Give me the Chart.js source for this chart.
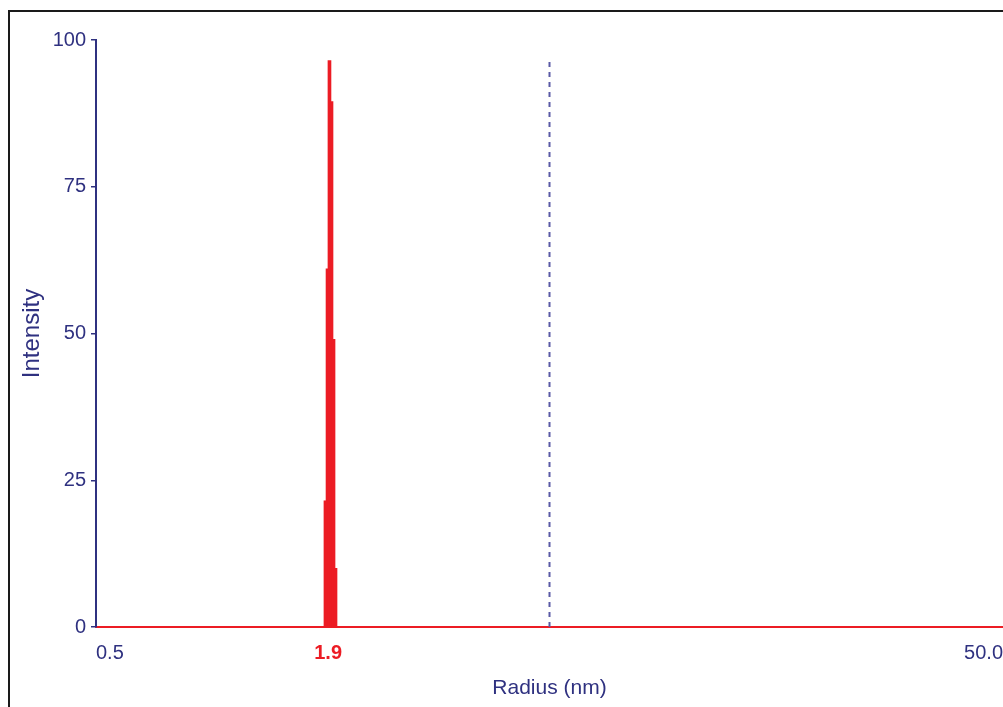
<!DOCTYPE html>
<html>
<head>
<meta charset="utf-8">
<script src="https://cdn.jsdelivr.net/npm/chart.js@4.4.1/dist/chart.umd.min.js"></script>
<style>
html,body{margin:0;padding:0;background:#fff;overflow:hidden;}
#wrap{position:absolute;left:0;top:0;width:1003px;height:707px;}
</style>
</head>
<body>
<div id="wrap"><canvas id="c" width="1003" height="707"></canvas></div>
<script>
// Radius bins (nm) and intensity values
const radius = [1.603, 1.620, 1.636, 1.653, 1.670, 1.687];
const intensity = [21.5, 61, 96.5, 89.5, 49, 10];
// Dashed marker line
const markerRadius = [5.0, 5.0];
const markerValues = [0, 96.5];
// Axis ticks
const xTickValues = [0.5, 1.625, 50];
const xTickLabels = ['0.5', '1.9', '50.0'];
const yTickValues = [0, 25, 50, 75, 100];

const NAVY = '#2f3180';
const RED = '#ec1c24';

const framePlugin = {
  id: 'frame',
  afterDraw(chart) {
    const ctx = chart.ctx;
    ctx.save();
    ctx.fillStyle = '#1a1a1a';
    ctx.fillRect(8, 10, 2, 697);
    ctx.fillRect(8, 10, 995, 2);
    ctx.restore();
  }
};

new Chart(document.getElementById('c'), {
  type: 'bar',
  data: {
    datasets: [
      {
        type: 'line',
        data: markerRadius.map((r, i) => ({x: r, y: markerValues[i]})),
        borderColor: '#5a5aa6',
        borderWidth: 2,
        borderDash: [5, 5],
        pointRadius: 0,
        fill: false
      },
      {
        data: radius.map((r, i) => ({x: r, y: intensity[i]})),
        backgroundColor: RED,
        borderWidth: 0,
        barThickness: 3
      }
    ]
  },
  plugins: [framePlugin],
  options: {
    responsive: false,
    animation: false,
    events: [],
    layout: {padding: {left: 0, right: 0, top: 40, bottom: 0}},
    plugins: {legend: {display: false}, tooltip: {enabled: false}},
    scales: {
      x: {
        type: 'logarithmic',
        min: 0.5,
        max: 50,
        afterBuildTicks(scale) { scale.ticks = xTickValues.map(v => ({value: v})); },
        afterFit(scale) { scale.height = 80; scale.paddingRight = 0; scale.paddingLeft = 0; },
        grid: {display: false, drawTicks: false},
        border: {display: true, color: RED, width: 2},
        ticks: {
          autoSkip: false,
          maxRotation: 0,
          align: 'inner',
          padding: 14,
          color: (c) => c.index === 1 ? RED : NAVY,
          font: (c) => ({family: 'Liberation Sans', size: 20, weight: c.index === 1 ? 'bold' : 'normal'}),
          callback: (v, i) => xTickLabels[i]
        },
        title: {
          display: true,
          text: 'Radius (nm)',
          color: NAVY,
          font: {family: 'Liberation Sans', size: 21},
          padding: {top: 6, bottom: 6}
        }
      },
      y: {
        min: 0,
        max: 100,
        afterBuildTicks(scale) { scale.ticks = yTickValues.map(v => ({value: v})); },
        afterFit(scale) { scale.width = 96; scale.paddingTop = 0; },
        grid: {drawOnChartArea: false, drawTicks: true, tickLength: 5, color: NAVY, lineWidth: 1.5},
        border: {display: true, color: NAVY, width: 2},
        ticks: {
          color: NAVY,
          padding: 5,
          font: {family: 'Liberation Sans', size: 20}
        },
        title: {
          display: true,
          text: 'Intensity',
          color: NAVY,
          font: {family: 'Liberation Sans', size: 24},
          padding: {top: 18, bottom: 0}
        }
      }
    }
  }
});
</script>
</body>
</html>
